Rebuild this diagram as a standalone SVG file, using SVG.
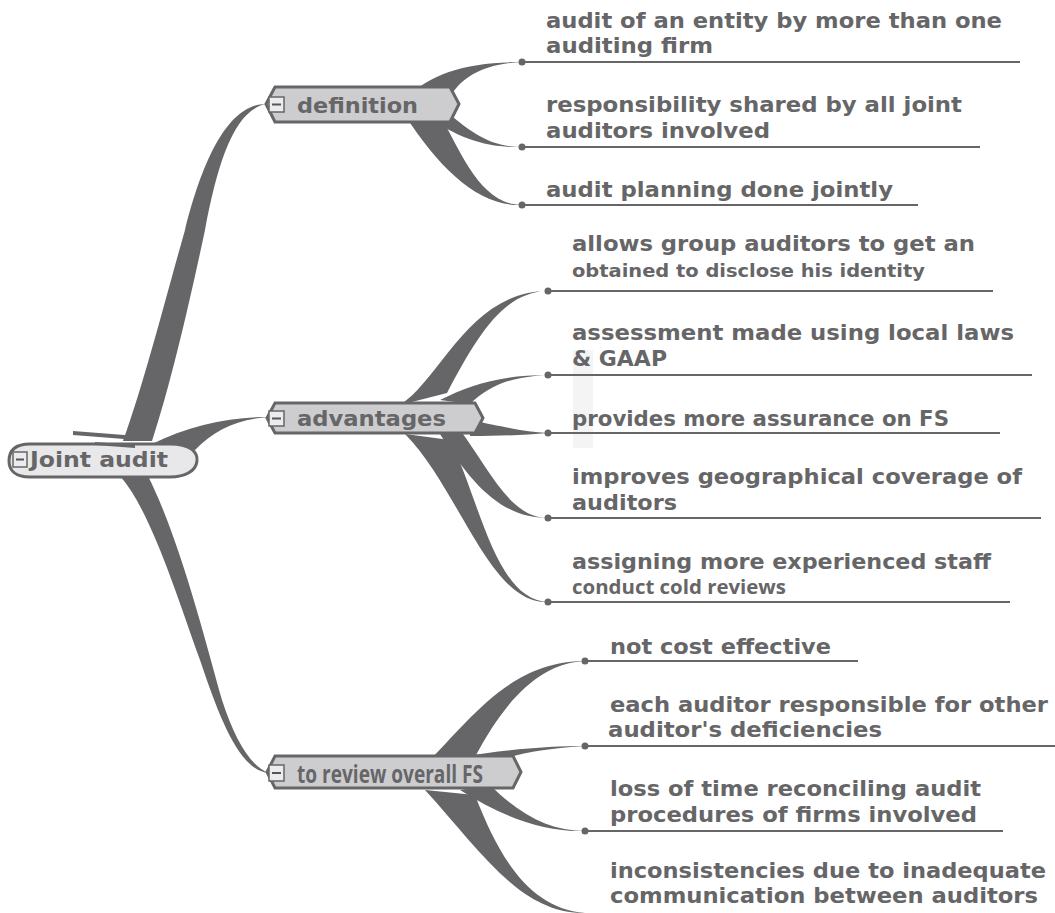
<svg xmlns="http://www.w3.org/2000/svg" width="1055" height="913" viewBox="0 0 1055 913">
<style>
.br{fill:#666668;stroke:none}
.ln{stroke:#666668;stroke-width:2;fill:none}
.dot{fill:#666668}
.t{font-family:"DejaVu Sans",Verdana,sans-serif;font-weight:bold;font-size:21px;fill:#666668}
.tc{font-family:"Open Sans","DejaVu Sans Condensed",sans-serif;font-weight:bold;font-size:20px;fill:#666668}
.tr{font-family:"Open Sans","DejaVu Sans Condensed",sans-serif;font-weight:bold;font-size:25px;fill:#666668}
.node{fill:#cdcdcf;stroke:#666668;stroke-width:3}
.box{fill:#ececee;stroke:#666668;stroke-width:1.5}
.minus{stroke:#555;stroke-width:2}
</style>
<rect x="573" y="350" width="20" height="98" fill="#f4f4f4"/>
<g id="connectors">
<path class="br" d="M123,441 C145,380 165,300 185,230 C200,170 225,104 266,104 C235,110 218,160 205,230 C190,300 172,380 152,441 Z"/>
<path class="br" d="M150,445 C190,425 230,417 268,417 C235,420 215,430 195,450 Z"/>
<path class="br" d="M120,476 C150,510 175,590 200,660 C220,720 240,770 268,773 C250,765 235,740 222,700 C205,640 180,540 148,476 Z"/>
<path class="br" d="M405,100 C430,72 470,62 522,62 C485,64 462,75 448,100 Z"/>
<path class="br" d="M445,110 C470,132 490,147 522,147 C490,148 460,140 425,115 Z"/>
<path class="br" d="M440,115 C460,150 480,205 522,205 C480,207 440,170 405,115 Z"/>
<path class="br" d="M400,405 C440,380 470,291 548,291 C505,292 480,330 447,393 Z"/>
<path class="br" d="M440,400 C470,385 500,375 548,375 C510,377 490,385 470,404 Z"/>
<path class="br" d="M470,420 C505,427 525,432 548,433 C525,435 500,436 470,436 Z"/>
<path class="br" d="M460,430 C490,470 510,518 548,518 C505,518 475,490 440,434 Z"/>
<path class="br" d="M450,440 C480,500 495,600 548,602 C490,605 460,490 405,434 Z"/>
<path class="br" d="M425,765 C470,720 510,661 585,661 C540,663 505,700 475,757 Z"/>
<path class="br" d="M460,757 C510,749 550,746 585,746 C550,748 520,753 500,760 Z"/>
<path class="br" d="M490,785 C520,815 550,831 585,831 C540,832 500,815 460,790 Z"/>
<path class="br" d="M475,795 C500,860 530,908 585,913 C520,914 480,850 425,790 Z"/>
<line class="ln" x1="522" y1="62" x2="1020" y2="62"/><circle class="dot" cx="522" cy="62" r="3.5"/>
<line class="ln" x1="522" y1="147" x2="980" y2="147"/><circle class="dot" cx="522" cy="147" r="3.5"/>
<line class="ln" x1="522" y1="205" x2="918" y2="205"/><circle class="dot" cx="522" cy="205" r="3.5"/>
<line class="ln" x1="548" y1="291" x2="993" y2="291"/><circle class="dot" cx="548" cy="291" r="3.5"/>
<line class="ln" x1="548" y1="375" x2="1032" y2="375"/><circle class="dot" cx="548" cy="375" r="3.5"/>
<line class="ln" x1="548" y1="433" x2="1000" y2="433"/><circle class="dot" cx="548" cy="433" r="3.5"/>
<line class="ln" x1="548" y1="518" x2="1041" y2="518"/><circle class="dot" cx="548" cy="518" r="3.5"/>
<line class="ln" x1="548" y1="602" x2="1010" y2="602"/><circle class="dot" cx="548" cy="602" r="3.5"/>
<line class="ln" x1="585" y1="661" x2="858" y2="661"/><circle class="dot" cx="585" cy="661" r="3.5"/>
<line class="ln" x1="585" y1="746" x2="1055" y2="746"/><circle class="dot" cx="585" cy="746" r="3.5"/>
<line class="ln" x1="585" y1="831" x2="1003" y2="831"/><circle class="dot" cx="585" cy="831" r="3.5"/>
<line class="ln" x1="585" y1="914" x2="1050" y2="914"/>
</g>
<g id="root">
<path d="M30,444 L170,444 C190,444 198,452 197,461 C196,471 185,477 170,477 L30,477 C15,477 9,470 9,461 C9,451 15,444 30,444 Z" fill="#e8e8ea" stroke="#666668" stroke-width="3"/>
<path d="M73,431 L150,437 L150,441 L73,435 Z" fill="#666668"/>
<path d="M95,442 L135,445 L135,448 L95,445 Z" fill="#666668"/>
<rect class="box" x="13" y="452" width="14" height="15"/>
<line class="minus" x1="16" y1="459.5" x2="24" y2="459.5"/>
<text class="t" x="30" y="467" textLength="138" lengthAdjust="spacingAndGlyphs">Joint audit</text>
</g>
<g id="definition">
<polygon class="node" points="275,87 450,87 459,104 450,122 275,122 266,104"/>
<rect class="box" x="269" y="97" width="15" height="15"/>
<line class="minus" x1="272" y1="104.5" x2="281" y2="104.5"/>
<text class="t" x="297" y="113" textLength="121" lengthAdjust="spacingAndGlyphs">definition</text>
</g>
<g id="advantages">
<polygon class="node" points="275,403 475,403 483,418 475,433 275,433 267,418"/>
<rect class="box" x="269" y="411" width="15" height="15"/>
<line class="minus" x1="272" y1="418.5" x2="281" y2="418.5"/>
<text class="t" x="297" y="426" textLength="149" lengthAdjust="spacingAndGlyphs">advantages</text>
</g>
<g id="review">
<polygon class="node" points="275,756 513,756 521,772 513,788 275,788 267,772"/>
<rect class="box" x="269" y="765" width="15" height="16"/>
<line class="minus" x1="272" y1="773" x2="281" y2="773"/>
<text class="tr" x="297" y="783" textLength="186" lengthAdjust="spacingAndGlyphs">to review overall FS</text>
</g>
<g id="leaf-def1"><text class="t" x="546" y="28" textLength="456" lengthAdjust="spacingAndGlyphs">audit of an entity by more than one</text><text class="t" x="546" y="53" textLength="167" lengthAdjust="spacingAndGlyphs">auditing firm</text></g>
<g id="leaf-def2"><text class="t" x="546" y="112" textLength="416" lengthAdjust="spacingAndGlyphs">responsibility shared by all joint</text><text class="t" x="546" y="138" textLength="224" lengthAdjust="spacingAndGlyphs">auditors involved</text></g>
<g id="leaf-def3"><text class="t" x="546" y="197" textLength="347" lengthAdjust="spacingAndGlyphs">audit planning done jointly</text></g>
<g id="leaf-adv1"><text class="t" x="572" y="251" textLength="403" lengthAdjust="spacingAndGlyphs">allows group auditors to get an</text><text class="t" x="572" y="277" style="font-size:18px" textLength="353" lengthAdjust="spacingAndGlyphs">obtained to disclose his identity</text></g>
<g id="leaf-adv2"><text class="t" x="572" y="340" textLength="442" lengthAdjust="spacingAndGlyphs">assessment made using local laws</text><text class="t" x="572" y="366" textLength="95" lengthAdjust="spacingAndGlyphs">&amp; GAAP</text></g>
<g id="leaf-adv3"><text class="t" x="572" y="426" textLength="377" lengthAdjust="spacingAndGlyphs">provides more assurance on FS</text></g>
<g id="leaf-adv4"><text class="t" x="572" y="484" textLength="450" lengthAdjust="spacingAndGlyphs">improves geographical coverage of</text><text class="t" x="572" y="510" textLength="105" lengthAdjust="spacingAndGlyphs">auditors</text></g>
<g id="leaf-adv5"><text class="t" x="572" y="569" textLength="419" lengthAdjust="spacingAndGlyphs">assigning more experienced staff</text><text class="tc" x="572" y="594" textLength="214" lengthAdjust="spacingAndGlyphs">conduct cold reviews</text></g>
<g id="leaf-rev1"><text class="t" x="610" y="654" textLength="221" lengthAdjust="spacingAndGlyphs">not cost effective</text></g>
<g id="leaf-rev2"><text class="t" x="610" y="712" textLength="438" lengthAdjust="spacingAndGlyphs">each auditor responsible for other</text><text class="t" x="608" y="737" textLength="274" lengthAdjust="spacingAndGlyphs">auditor's deficiencies</text></g>
<g id="leaf-rev3"><text class="t" x="610" y="796" textLength="371" lengthAdjust="spacingAndGlyphs">loss of time reconciling audit</text><text class="t" x="610" y="822" textLength="367" lengthAdjust="spacingAndGlyphs">procedures of firms involved</text></g>
<g id="leaf-rev4"><text class="t" x="610" y="878" textLength="436" lengthAdjust="spacingAndGlyphs">inconsistencies due to inadequate</text><text class="t" x="610" y="903" textLength="428" lengthAdjust="spacingAndGlyphs">communication between auditors</text></g>
</svg>
